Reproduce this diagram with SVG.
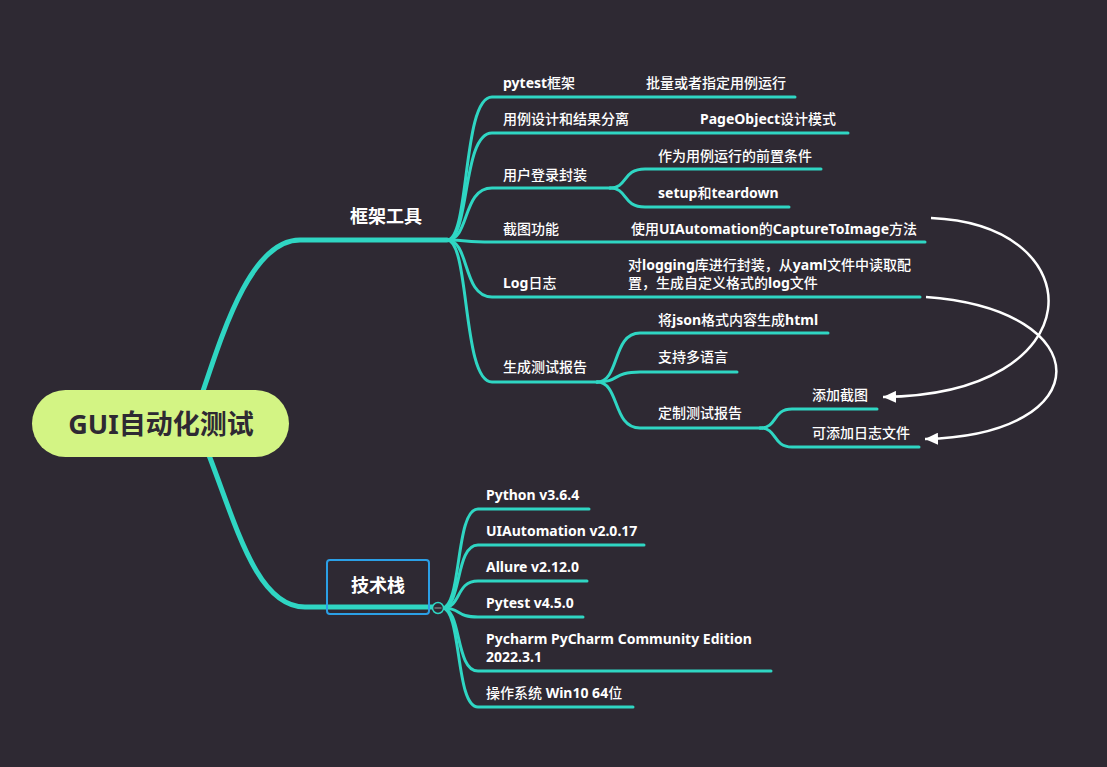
<svg xmlns="http://www.w3.org/2000/svg" width="1107" height="767" viewBox="0 0 1107 767">
<defs>
<style>
.t{font-family:"Noto Sans","Noto Sans CJK SC",sans-serif;font-size:14px;fill:#ffffff;font-weight:500}
.b{font-weight:700}
.l1{font-family:"Noto Sans","Noto Sans CJK SC",sans-serif;font-size:18px;fill:#ffffff;font-weight:700}
.c{fill:none;stroke:#2fd6c3;stroke-width:3;stroke-linecap:round}
.m{fill:none;stroke:#2fd6c3;stroke-width:5;stroke-linecap:round}
.a{fill:none;stroke:#ffffff;stroke-width:2.5}
</style>
<marker id="ah" markerUnits="userSpaceOnUse" markerWidth="14" markerHeight="12" refX="13" refY="6" orient="auto">
<path d="M0,0 L13,6 L0,12 z" fill="#ffffff"/>
</marker>
</defs>
<rect width="1107" height="767" fill="#2e2933"/>
<g id="connectors">
<path class="m" d="M200 400 C222 335,250 240,300 240 L447 240"/>
<path class="m" d="M205 445 C235 520,255 607,305 607 L433 607"/>
<path class="c" d="M447 240 C470 240,462 97,492 97 L795 97"/>
<path class="c" d="M447 240 C470 240,462 133,492 133 L848 133"/>
<path class="c" d="M447 240 C470 240,462 188,492 188 L610 188"/>
<path class="c" d="M447 240 C470 240,462 242,492 242 L925 242"/>
<path class="c" d="M447 240 C470 240,462 297,492 297 L920 297"/>
<path class="c" d="M447 240 C470 240,462 382,492 382 L597 382"/>
<path class="c" d="M610 188 C628 188,622 169,645 169 L821 169"/>
<path class="c" d="M610 188 C628 188,622 207,645 207 L789 207"/>
<path class="c" d="M597 382 C620 382,612 333,640 333 L828 333"/>
<path class="c" d="M597 382 C620 382,612 372,640 372 L737 372"/>
<path class="c" d="M597 382 C620 382,612 428,640 428 L760 428"/>
<path class="c" d="M760 428 C778 428,772 409,792 409 L877 409"/>
<path class="c" d="M760 428 C778 428,772 447,792 447 L919 447"/>
<path class="c" d="M442 608 C462 608,455 509,478 509 L589 509"/>
<path class="c" d="M442 608 C462 608,455 545,478 545 L644 545"/>
<path class="c" d="M442 608 C462 608,455 581,478 581 L587 581"/>
<path class="c" d="M442 608 C462 608,455 617,478 617 L583 617"/>
<path class="c" d="M442 608 C462 608,455 671,478 671 L771 671"/>
<path class="c" d="M442 608 C462 608,455 707,478 707 L633 707"/>
<path class="a" d="M931 218 C1095 225,1095 395,883 397" marker-end="url(#ah)"/>
<path class="a" d="M926 297 C1100 310,1100 435,925 439" marker-end="url(#ah)"/>
</g>
<g id="root">
<rect x="32" y="390" width="257" height="67" rx="33.5" fill="#d3f484"/>
<text x="161" y="434" text-anchor="middle" font-family="'Noto Sans','Noto Sans CJK SC',sans-serif" font-size="27" font-weight="700" fill="#2e2933">GUI自动化测试</text>
</g>
<g id="n-kjgj"><text class="l1" x="350" y="223">框架工具</text></g>
<g id="n-jsz">
<rect x="327" y="560" width="102" height="54" rx="3" fill="none" stroke="#2b9fe6" stroke-width="2"/>
<text class="l1" x="378" y="592" text-anchor="middle">技术栈</text>
<circle cx="438" cy="608" r="5.5" fill="#2e2933" stroke="#2fd6c3" stroke-width="1.5"/>
<line x1="434.5" y1="608" x2="441.5" y2="608" stroke="#8a8a8a" stroke-width="1.2"/>
</g>
<g id="n-pytest"><text class="t" x="503" y="88"><tspan class="b">pytest</tspan>框架</text></g>
<g id="n-pl"><text class="t" x="646" y="88">批量或者指定用例运行</text></g>
<g id="n-ylsj"><text class="t" x="503" y="124">用例设计和结果分离</text></g>
<g id="n-po"><text class="t" x="700" y="124"><tspan class="b">PageObject</tspan>设计模式</text></g>
<g id="n-yhdl"><text class="t" x="503" y="180">用户登录封装</text></g>
<g id="n-qz"><text class="t" x="658" y="161">作为用例运行的前置条件</text></g>
<g id="n-setup"><text class="t" x="658" y="198"><tspan class="b">setup</tspan>和<tspan class="b">teardown</tspan></text></g>
<g id="n-jt"><text class="t" x="503" y="234">截图功能</text></g>
<g id="n-cap"><text class="t" x="631" y="234">使用<tspan class="b">UIAutomation</tspan>的<tspan class="b">CaptureToImage</tspan>方法</text></g>
<g id="n-log"><text class="t" x="503" y="288"><tspan class="b">Log</tspan>日志</text></g>
<g id="n-logging"><text class="t" x="628" y="270">对<tspan class="b">logging</tspan>库进行封装，从<tspan class="b">yaml</tspan>文件中读取配</text><text class="t" x="628" y="288">置，生成自定义格式的<tspan class="b">log</tspan>文件</text></g>
<g id="n-bg"><text class="t" x="503" y="372">生成测试报告</text></g>
<g id="n-json"><text class="t" x="658" y="325">将<tspan class="b">json</tspan>格式内容生成<tspan class="b">html</tspan></text></g>
<g id="n-dyy"><text class="t" x="658" y="362">支持多语言</text></g>
<g id="n-dz"><text class="t" x="658" y="418">定制测试报告</text></g>
<g id="n-tjjt"><text class="t" x="812" y="400">添加截图</text></g>
<g id="n-tjrz"><text class="t" x="812" y="438">可添加日志文件</text></g>
<g id="n-py"><text class="t b" x="486" y="500">Python v3.6.4</text></g>
<g id="n-uia"><text class="t b" x="486" y="536">UIAutomation v2.0.17</text></g>
<g id="n-allure"><text class="t b" x="486" y="572">Allure v2.12.0</text></g>
<g id="n-pyt"><text class="t b" x="486" y="608">Pytest v4.5.0</text></g>
<g id="n-pch"><text class="t b" x="486" y="644">Pycharm PyCharm Community Edition</text><text class="t b" x="486" y="662">2022.3.1</text></g>
<g id="n-os"><text class="t" x="486" y="698">操作系统 <tspan class="b">Win10 64</tspan>位</text></g>
</svg>
